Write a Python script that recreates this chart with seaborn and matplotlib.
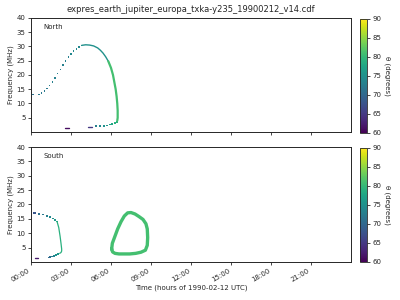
import matplotlib
matplotlib.use("Agg")
import matplotlib.pyplot as plt
import seaborn as sns
import numpy as np
import pandas as pd
from matplotlib.colors import Normalize
from matplotlib.cm import ScalarMappable

sns.set_theme(style="ticks")
plt.rcParams['font.family'] = ['DejaVu Sans']

TITLE = "expres_earth_jupiter_europa_txka-y235_19900212_v14.cdf"
XTICKS = [0, 3, 6, 9, 12, 15, 18, 21]
XTICKLABELS = ["00:00", "03:00", "06:00", "09:00", "12:00", "15:00", "18:00", "21:00"]
YTICKS = [5, 10, 15, 20, 25, 30, 35, 40]
CBTICKS = [60, 65, 70, 75, 80, 85, 90]

# North hemisphere: dotted rising arc
north_a_t = [0.0, 0.15, 0.6, 0.8, 1.0, 1.2, 1.4, 1.6, 1.8, 2.0, 2.2, 2.4, 2.6, 2.8, 3.0, 3.2, 3.4, 3.6, 3.8]
north_a_f = [13.6, 13.2, 13.1, 13.6, 14.3, 15.2, 16.3, 17.6, 19.0, 20.5, 22.0, 23.5, 25.0, 26.3, 27.4, 28.4, 29.2, 29.8, 30.3]
north_a_th = [71, 71, 72, 72, 72, 72, 73, 73, 73, 73, 73, 73, 73, 73, 74, 74, 74, 74, 74]
# North: peak and descent (thin line)
north_b_t = [3.8, 4.1, 4.4, 4.7, 5.0, 5.2, 5.4, 5.6, 5.8]
north_b_f = [30.4, 30.6, 30.5, 30.2, 29.5, 28.7, 27.7, 26.4, 24.8]
# North: steep descent (thick line)
north_c_t = [5.8, 6.0, 6.15, 6.25, 6.35, 6.42, 6.47, 6.5, 6.5, 6.47]
north_c_f = [24.8, 22.5, 20.0, 17.5, 15.0, 12.5, 10.0, 7.5, 5.0, 4.0]
# North: low-frequency tail
north_d_t = [6.45, 6.3, 6.1, 5.9, 5.7, 5.5, 5.2, 4.9]
north_d_f = [3.6, 3.2, 2.9, 2.6, 2.3, 2.1, 2.0, 2.0]
north_d_th = [79, 79, 78, 77, 76, 75, 74, 73]
# North: isolated low blobs (short dashes)
north_e1_t = [2.55, 2.85]
north_e1_f = [1.4, 1.4]
north_e2_t = [4.3, 4.55]
north_e2_f = [1.6, 1.6]

# South hemisphere: first arc (dashed)
south_a_t = [0.2, 0.3, 0.6, 0.9, 1.2, 1.45, 1.65, 1.8, 1.95]
south_a_f = [17.0, 17.0, 16.8, 16.5, 16.1, 15.6, 15.1, 14.6, 14.1]
south_a_th = [68, 68, 71, 72, 73, 74, 75, 76, 77]
# South: steep part of first arc
south_b_t = [1.95, 2.08, 2.18, 2.25, 2.3, 2.3, 2.25, 2.15]
south_b_f = [14.1, 12.0, 9.0, 6.5, 4.5, 3.8, 3.3, 3.0]
# South: tail of first arc
south_c_t = [2.05, 1.9, 1.75, 1.6, 1.45, 1.35]
south_c_f = [2.8, 2.5, 2.2, 1.9, 1.7, 1.6]
south_c_th = [76, 75, 74, 72, 71, 70]
# South: purple blob
south_d_t = [0.3, 0.55]
south_d_f = [1.3, 1.3]
# South: closed loop
south_loop_t = [6.05, 6.1, 6.3, 6.5, 6.75, 7.0, 7.25, 7.5, 7.8, 8.1, 8.4, 8.62, 8.72, 8.75, 8.72, 8.58, 8.25, 7.85, 7.4, 7.0, 6.6, 6.3, 6.12, 6.05]
south_loop_f = [4.5, 6.5, 9.0, 11.5, 14.0, 16.0, 17.1, 17.2, 16.7, 15.8, 14.8, 13.3, 11.5, 8.5, 5.8, 4.1, 3.4, 3.0, 2.8, 2.8, 2.8, 3.0, 3.5, 4.5]

cmap = plt.get_cmap("viridis")
norm = Normalize(60, 90)

fig = plt.figure(figsize=(4, 3), dpi=100)
ax1 = fig.add_axes([0.0775, 0.56, 0.8, 0.38])
ax2 = fig.add_axes([0.0775, 0.1267, 0.8, 0.3833])
cax1 = fig.add_axes([0.9, 0.5567, 0.018, 0.38])
cax2 = fig.add_axes([0.9, 0.1267, 0.018, 0.38])

def dots(ax, t, f, th, s=1.2):
    df = pd.DataFrame({"t": t, "f": f, "th": th})
    sns.scatterplot(data=df, x="t", y="f", hue="th", palette="viridis", hue_norm=(60, 90),
                    marker="s", s=s, linewidth=0, legend=False, ax=ax)

def line(ax, t, f, th, lw):
    df = pd.DataFrame({"t": t, "f": f})
    sns.lineplot(data=df, x="t", y="f", sort=False, estimator=None, color=cmap(norm(th)),
                 linewidth=lw, ax=ax)

dots(ax1, north_a_t, north_a_f, north_a_th)
line(ax1, north_b_t, north_b_f, 75, 1.0)
line(ax1, north_c_t, north_c_f, 81, 1.6)
dots(ax1, north_d_t, north_d_f, north_d_th, s=1.5)
line(ax1, north_e1_t, north_e1_f, 61, 1.0)
line(ax1, north_e2_t, north_e2_f, 65, 1.0)

dots(ax2, south_a_t, south_a_f, south_a_th, s=1.5)
line(ax2, south_b_t, south_b_f, 79, 0.9)
dots(ax2, south_c_t, south_c_f, south_c_th, s=1.5)
line(ax2, south_d_t, south_d_f, 62, 1.0)
line(ax2, south_loop_t, south_loop_f, 81, 2.4)

for ax, name in [(ax1, "North"), (ax2, "South")]:
    ax.set_xlim(0, 24)
    ax.set_ylim(0, 40)
    ax.set_yticks(YTICKS)
    ax.set_xticks(XTICKS)
    ax.tick_params(labelsize=5, length=2.5, width=0.6, pad=1.5)
    ax.set_ylabel("Frequency (MHz)", fontsize=5, labelpad=2)
    ax.text(0.04, 0.9, name, transform=ax.transAxes, fontsize=5)
    for sp in ax.spines.values():
        sp.set_linewidth(0.7)

ax1.set_xticklabels([])
ax1.set_xlabel("")
ax2.set_xticklabels(XTICKLABELS, rotation=30, ha="right")
ax2.set_xlabel("Time (hours of 1990-02-12 UTC)", fontsize=5, labelpad=1)
ax1.set_title(TITLE, fontsize=6, pad=4)

for cax in (cax1, cax2):
    sm = ScalarMappable(norm=norm, cmap=cmap)
    cb = fig.colorbar(sm, cax=cax, ticks=CBTICKS)
    cb.ax.tick_params(labelsize=5, length=2, width=0.6, pad=1.5)
    cb.outline.set_linewidth(0.6)
    cb.set_label("θ (degrees)", fontsize=5, rotation=270, labelpad=7)

fig.savefig("out.png", dpi=100)
